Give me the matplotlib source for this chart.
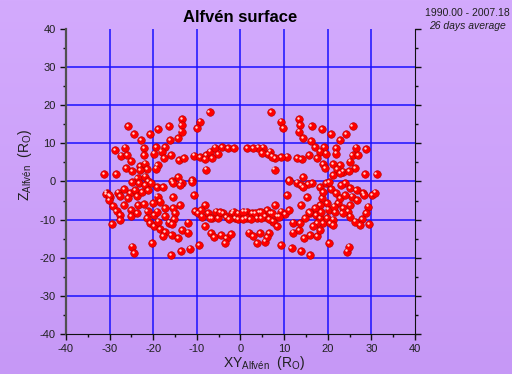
import numpy as np
import matplotlib
matplotlib.use('Agg')
import matplotlib.pyplot as plt
from matplotlib.transforms import offset_copy

plt.rcParams['font.family'] = ['Liberation Sans', 'DejaVu Sans']
plt.rcParams['mathtext.fontset'] = 'custom'
plt.rcParams['mathtext.rm'] = 'Liberation Sans'
plt.rcParams['mathtext.it'] = 'Liberation Sans:italic'

# XY / Z positions of the Alfven surface points (in solar radii)
xy_upper_left = [-7.1, -13.3, -9.3, -13.5, -9.9, -25.7, -18.8, -16.4, -13.5, -24.3, -20.7, -14.3,
                 -22.8, -16.1, -28.8, -26.5, -27.4, -26.0, -25.1, -22.2, -22.2, -19.3, -17.3, -19.8,
                 -18.1, -17.6, -15.9, -14.1, -13.0, -10.7, -9.2, -7.8, -6.9, -5.8, -4.3, -2.8, -1.4,
                 -8.1, -6.6, -5.1, -26.3, -24.8, -23.0, -21.9, -21.4, -23.0, -19.0, -19.3, -31.2,
                 -28.5, -7.8, -14.3, -11.2, -23.6, -21.9, -15.6, -13.5, -24.8, -21.1]
z_upper_left = [18.2, 16.4, 15.7, 14.8, 14.0, 14.6, 13.8, 14.5, 13.1, 12.4, 12.5, 11.3,
                10.8, 10.8, 8.3, 8.9, 6.8, 7.0, 5.4, 8.7, 7.0, 9.0, 9.0, 7.3,
                7.8, 6.2, 7.0, 5.7, 6.2, 6.8, 6.4, 7.0, 7.8, 8.9, 9.0, 8.7, 8.7,
                5.9, 6.2, 7.1, 3.6, 2.8, 4.1, 4.7, 3.3, 3.0, 4.3, 3.4, 1.9,
                1.9, 3.1, 1.2, 0.3, 0.8, 1.3, 0.0, -0.3, -0.2, 0.0]

xy_lower_left = [-30.7, -29.9, -30.1, -28.0, -27.6, -26.6, -25.3, -25.7, -24.2, -23.8, -22.6, -23.3,
                 -21.9, -21.1, -20.4, -19.2, -17.7, -19.0, -18.5, -20.0, -15.4, -15.4, -13.9, -11.2,
                 -10.6, -13.9, -29.2, -28.4, -27.6, -27.6, -29.4, -26.6, -25.0, -25.0, -23.8, -23.4,
                 -22.1, -21.3, -21.5, -20.7, -19.8, -19.2, -19.8, -18.8, -18.5, -17.3, -17.2, -16.4,
                 -15.0, -15.2, -15.6, -15.4, -17.3, -17.7, -15.8, -14.4, -13.3, -12.0, -12.1, -20.2,
                 -24.8, -24.3, -15.9, -13.6, -11.6, -9.4, -10.4, -9.7, -8.1, -8.9, -7.4, -6.6,
                 -5.7, -5.1, -3.9, -3.2, -2.0, -1.3, -1.6, -8.1, -6.8, -6.0, -4.5, -3.2,
                 -3.6, -2.2, -0.6, -0.5, -4.6, -7.0, -9.0, -2.6, -30.9, -30.1]
z_lower_left = [-2.9, -4.0, -4.9, -2.9, -3.8, -2.0, -3.1, -4.4, -2.2, -3.8, -2.7, -0.5,
                -0.9, -2.2, -0.5, -1.4, -1.4, -4.0, -5.3, -5.7, -4.1, -0.5, -0.9, -0.1,
                -3.6, -6.2, -6.4, -7.7, -8.8, -10.1, -11.2, -6.2, -7.5, -9.0, -8.3, -6.2,
                -5.9, -7.7, -9.7, -11.0, -8.8, -7.9, -11.8, -10.5, -12.5, -9.0, -7.0, -10.8,
                -8.3, -9.9, -11.1, -7.0, -13.2, -14.3, -14.0, -14.9, -12.7, -13.4, -10.8, -16.2,
                -17.1, -18.7, -19.4, -18.2, -17.6, -16.7, -7.7, -8.3, -6.2, -9.2, -8.3, -9.7,
                -7.9, -9.7, -8.3, -9.4, -8.3, -9.7, -7.9, -11.8, -13.6, -14.6, -14.0, -14.9,
                -16.2, -13.8, -8.4, -9.8, -8.1, -9.6, -7.5, -9.8, -3.4, -3.6]

xy_upper_right = [7.1, 9.4, 9.8, 13.5, 13.6, 13.5, 14.4, 16.3, 18.8, 20.7, 22.8, 24.3,
                  25.7, 16.1, 17.1, 19.2, 18.2, 19.7, 17.5, 15.8, 14.0, 12.9, 10.6, 9.3,
                  7.9, 6.8, 6.3, 5.2, 4.1, 2.9, 1.5, 4.9, 7.2, 22.0, 22.0, 26.5,
                  28.8, 25.7, 26.9, 25.1, 22.8, 21.3, 19.0, 19.4, 22.2, 23.6, 26.2, 24.9,
                  28.5, 31.2, 7.8, 14.4, 11.2, 21.3, 22.8, 24.0, 13.0, 16.5]
z_upper_right = [18.2, 15.7, 14.0, 16.4, 14.8, 13.1, 11.3, 14.6, 13.8, 12.5, 10.8, 12.4,
                 14.6, 10.6, 9.0, 9.0, 7.8, 7.3, 6.2, 7.0, 5.9, 6.2, 6.5, 6.4,
                 6.1, 7.8, 7.1, 8.9, 8.9, 8.7, 8.7, 7.5, 6.5, 8.7, 7.3, 8.9,
                 8.5, 7.0, 6.9, 5.2, 4.3, 4.5, 4.5, 3.5, 3.3, 2.6, 3.6, 2.8,
                 1.9, 1.9, 3.1, 1.2, 0.3, 1.7, 2.1, -0.4, -0.3, -0.5]

xy_lower_right = [1.4, 1.4, 2.6, 3.7, 4.2, 5.6, 6.0, 6.8, 7.9, 8.3, 9.4, 10.2,
                  11.2, 7.5, 8.4, 10.6, 11.2, 13.8, 12.1, 12.1, 13.5, 14.6, 15.9, 17.5,
                  18.2, 9.4, 11.7, 13.8, 15.9, 20.4, 24.5, 24.9, 15.2, 13.9, 15.5, 14.4,
                  18.2, 19.7, 20.7, 20.4, 23.0, 25.1, 26.6, 28.1, 30.1, 30.8, 18.6, 19.9,
                  18.2, 17.1, 15.9, 17.3, 18.2, 19.0, 19.9, 20.5, 21.3, 18.5, 20.2, 21.6,
                  22.4, 23.6, 24.7, 25.1, 25.5, 26.8, 28.3, 29.3, 28.8, 27.8, 27.4, 29.5,
                  2.0, 2.9, 4.5, 3.7, 5.6, 6.6, 6.0, 13.6, 14.8, 15.8, 19.0, 22.0,
                  22.8, 24.0, 21.4, 23.4, 25.1, 26.2, 17.5, 16.7, 21.3, 0.6, 0.6, 2.3,
                  3.4, 4.7, 4.7, 6.6, 7.2, 8.8]
z_lower_right = [-7.9, -9.7, -8.3, -9.7, -8.0, -9.2, -7.5, -8.3, -6.2, -9.2, -7.9, -8.6,
                 -7.5, -10.5, -11.8, -3.5, 0.0, -6.2, -10.8, -13.4, -12.7, -14.9, -14.0, -14.3,
                 -12.7, -16.7, -17.5, -18.2, -19.4, -16.2, -18.4, -17.1, -4.1, -0.9, -0.7, -1.4,
                 -1.4, -0.5, -2.0, -0.1, -0.9, -1.8, -2.2, -3.1, -3.5, -2.9, -4.4, -5.7,
                 -6.2, -7.0, -8.3, -8.8, -9.7, -11.0, -9.7, -11.0, -10.0, -8.0, -7.4, -8.0,
                 -5.7, -7.0, -7.9, -6.2, -4.0, -4.9, -3.5, -6.6, -8.3, -9.9, -11.4, -11.2,
                 -13.4, -14.3, -13.6, -16.2, -15.8, -13.6, -14.5, -11.0, -9.7, -8.0, -2.7, -3.1,
                 -4.4, -3.5, -6.6, -8.3, -9.2, -10.5, -11.0, -11.8, -11.4, -7.9, -9.8, -9.8,
                 -8.3, -9.7, -8.1, -9.8, -8.3, -9.2]

xy = np.array(xy_upper_left + xy_lower_left + xy_upper_right + xy_lower_right)
z = np.array(z_upper_left + z_lower_left + z_upper_right + z_lower_right)

fig = plt.figure(figsize=(5.12, 3.74), dpi=100)

# purple gradient background
bg = fig.add_axes([0, 0, 1, 1], zorder=-10)
top = np.array([211, 170, 253]) / 255
bottom = np.array([198, 152, 246]) / 255
t = np.linspace(0, 1, 256)[:, None]
grad = top * (1 - t[..., None]) + bottom * t[..., None]
grad = np.repeat(grad, 2, axis=1)
bg.imshow(grad, aspect='auto', extent=[0, 1, 0, 1])
bg.axis('off')

ax = fig.add_axes([0.1289, 0.107, 0.6816, 0.8155])
ax.patch.set_alpha(0)
ax.set_xlim(-40, 40)
ax.set_ylim(-40, 40)

ticks = np.arange(-40, 41, 10)
ax.set_xticks(ticks)
ax.set_yticks(ticks)
ax.set_xticks(np.arange(-35, 40, 10), minor=True)
ax.set_yticks(np.arange(-35, 40, 10), minor=True)
for v in ticks[1:-1]:
    ax.axvline(v, color='#1a10ff', lw=1.1, zorder=1)
    ax.axhline(v, color='#1a10ff', lw=1.1, zorder=1)

ax.spines['top'].set_visible(False)
ax.spines['left'].set_color('#505050')
ax.spines['left'].set_linewidth(1.6)
ax.spines['right'].set_color('#101010')
ax.spines['bottom'].set_color('#101010')
ax.tick_params(which='both', direction='out', left=True, right=True, bottom=True, top=False,
               labelsize=8, colors='#101010', labelcolor='#202020')
ax.tick_params(which='major', length=4, width=1)
ax.tick_params(which='minor', length=2.5, width=1)
ax.set_xticklabels([str(v) for v in ticks])
ax.set_yticklabels([str(v) for v in ticks])

ax.scatter(xy, z, s=30, color='#ff0000', edgecolors='#b00000', linewidths=0.4, zorder=3)
hl = offset_copy(ax.transData, fig=fig, x=-0.8, y=0.9, units='points')
ax.scatter(xy, z, s=3, color='#ffd8d8', linewidths=0, transform=hl, zorder=4)

fig.text(0.469, 0.953, 'Alfvén surface', ha='center', va='center', fontsize=12, fontweight='bold')
fig.text(0.996, 0.965, '1990.00 - 2007.18', ha='right', va='center', fontsize=7.5, color='#202020')
fig.text(0.988, 0.930, '26 days average', ha='right', va='center', fontsize=7.5,
         style='italic', color='#202020')
fig.text(0.516, 0.030, r'XY$_{\mathrm{Alfvén}}$  (R$_{\mathrm{O}}$)', ha='center', va='center',
         fontsize=10, color='#202020')
fig.text(0.049, 0.559, r'Z$_{\mathrm{Alfvén}}$  (R$_{\mathrm{O}}$)', ha='center', va='center',
         fontsize=10, rotation=90, color='#202020')

plt.savefig('out.png', dpi=100)
plt.close()
